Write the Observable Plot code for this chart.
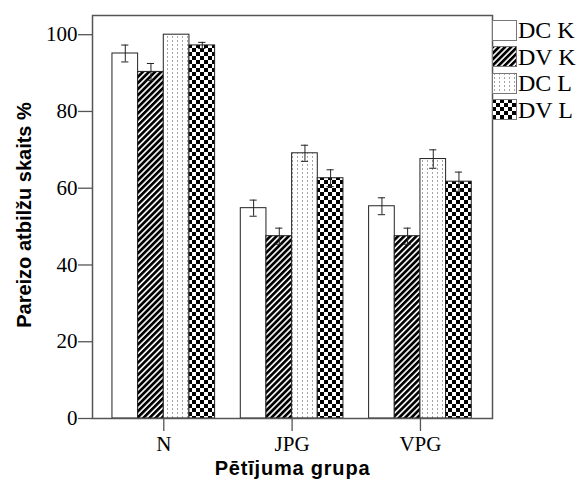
<!DOCTYPE html>
<html>
<head>
<meta charset="utf-8">
<script src="https://cdn.jsdelivr.net/npm/d3@7"></script>
<script src="https://cdn.jsdelivr.net/npm/@observablehq/plot@0.6"></script>
<style>
  body { margin: 0; background: #fff; }
  #wrap { position: relative; width: 579px; height: 483px; }
  #legend { position: absolute; left: 492px; top: 17px; font-family: 'Liberation Serif', 'Times New Roman', serif; font-size: 24px; color: #000; }
  .row { display: flex; align-items: center; height: 26.5px; }
  .row svg { margin-right: 1px; }
  .row span { line-height: 20px; position: relative; top: 0px; }
  .xt { letter-spacing: 0.8px; }
</style>
</head>
<body>
<svg width="0" height="0" style="position:absolute">
  <defs>
    <pattern id="pDVK" patternUnits="userSpaceOnUse" width="4.3" height="10" patternTransform="rotate(45)">
      <rect width="4.3" height="10" fill="#fff"/>
      <rect width="2.7" height="10" fill="#000"/>
    </pattern>
    <pattern id="pDCL" patternUnits="userSpaceOnUse" width="5" height="4">
      <rect width="5" height="4" fill="#fff"/>
      <rect x="2" y="0" width="1" height="2" fill="#a5a5a5"/>
    </pattern>
    <pattern id="pDVL" patternUnits="userSpaceOnUse" width="8" height="8">
      <rect width="8" height="8" fill="#fff"/>
      <rect x="0" y="0" width="4" height="4" fill="#000"/>
      <rect x="4" y="4" width="4" height="4" fill="#000"/>
    </pattern>
  </defs>
</svg>
<div id="wrap"></div>
<script>
const groups = ["N", "JPG", "VPG"];
const series = ["DC K", "DV K", "DC L", "DV L"];
const dcK = [95.1, 54.8, 55.3];
const dvK = [90.3, 47.5, 47.5];
const dcL = [100.0, 69.1, 67.6];
const dvL = [97.2, 62.6, 61.7];
const errDcK = [2.2, 2.1, 2.2];
const errDvK = [2.2, 2.1, 2.1];
const errDcL = [0.0, 2.1, 2.4];
const errDvL = [0.8, 2.2, 2.5];
const yTicks = [0, 20, 40, 60, 80, 100];
const yLabel = "Pareizo atbilžu skaits %";
const xLabel = "Pētījuma grupa";

const fills = ["#fff", "url(#pDVK)", "url(#pDCL)", "url(#pDVL)"];
const vals = [dcK, dvK, dcL, dvL];
const errs = [errDcK, errDvK, errDcL, errDvL];
const barW = 0.2;
const capW = 0.028;

const table = [];
groups.forEach((g, gi) => series.forEach((s, si) => {
  const x1 = gi + (si - 2) * barW;
  table.push({group: g, series: s, x1, x2: x1 + barW, xc: x1 + barW / 2,
    value: vals[si][gi], lo: vals[si][gi] - errs[si][gi], hi: vals[si][gi] + errs[si][gi]});
}));

const chart = Plot.plot({
  width: 579,
  height: 483,
  marginLeft: 92,
  marginRight: 87,
  marginTop: 15,
  marginBottom: 65,
  style: {fontFamily: "'Liberation Serif', 'Times New Roman', serif", fontSize: "21px", color: "#000", background: "#fff"},
  x: {domain: [-0.5555, 2.5615], axis: null},
  y: {domain: [0, 105], axis: null},
  color: {domain: series, range: fills},
  marks: [
    Plot.rectY(table, {x1: "x1", x2: "x2", y: "value", fill: "series", stroke: "#222", strokeWidth: 1}),
    Plot.ruleX(table.filter(d => d.hi > d.lo), {x: "xc", y1: "lo", y2: "hi", stroke: "#222", strokeWidth: 1}),
    Plot.ruleY(table.filter(d => d.hi > d.lo), {y: "hi", x1: d => d.xc - capW, x2: d => d.xc + capW, stroke: "#222", strokeWidth: 1}),
    Plot.ruleY(table.filter(d => d.hi > d.lo), {y: "lo", x1: d => d.xc - capW, x2: d => d.xc + capW, stroke: "#222", strokeWidth: 1}),
    Plot.axisY(yTicks, {anchor: "left", tickSize: 14, tickPadding: 1, stroke: "#555", strokeWidth: 1.3, label: null, fontSize: 21}),
    Plot.axisX([0, 1, 2], {anchor: "bottom", tickFormat: i => groups[i], tickSize: 13, tickPadding: 5, stroke: "#555", strokeWidth: 1.3, label: null, fontSize: 21}),
    Plot.frame({stroke: "#555", strokeWidth: 1.5}),
    Plot.text([yLabel], {frameAnchor: "left", textAnchor: "middle", rotate: -90, dx: -68, dy: -2, fontFamily: "'Liberation Sans', Arial, sans-serif", fontWeight: "bold", fontSize: 20, fill: "#000"}),
    Plot.text([xLabel], {frameAnchor: "bottom", textAnchor: "middle", dy: 56, className: "xt", fontFamily: "'Liberation Sans', Arial, sans-serif", fontWeight: "bold", fontSize: 20, fill: "#000"})
  ]
});

const wrap = document.getElementById("wrap");
wrap.appendChild(chart);

const legend = document.createElement("div");
legend.id = "legend";
series.forEach((s, i) => {
  const row = document.createElement("div");
  row.className = "row";
  row.innerHTML = `<svg width="25" height="21"><rect x="0.5" y="0.5" width="24" height="20" fill="${fills[i]}" stroke="#777" stroke-width="1"/></svg><span>${s}</span>`;
  legend.appendChild(row);
});
wrap.appendChild(legend);
</script>
</body>
</html>
